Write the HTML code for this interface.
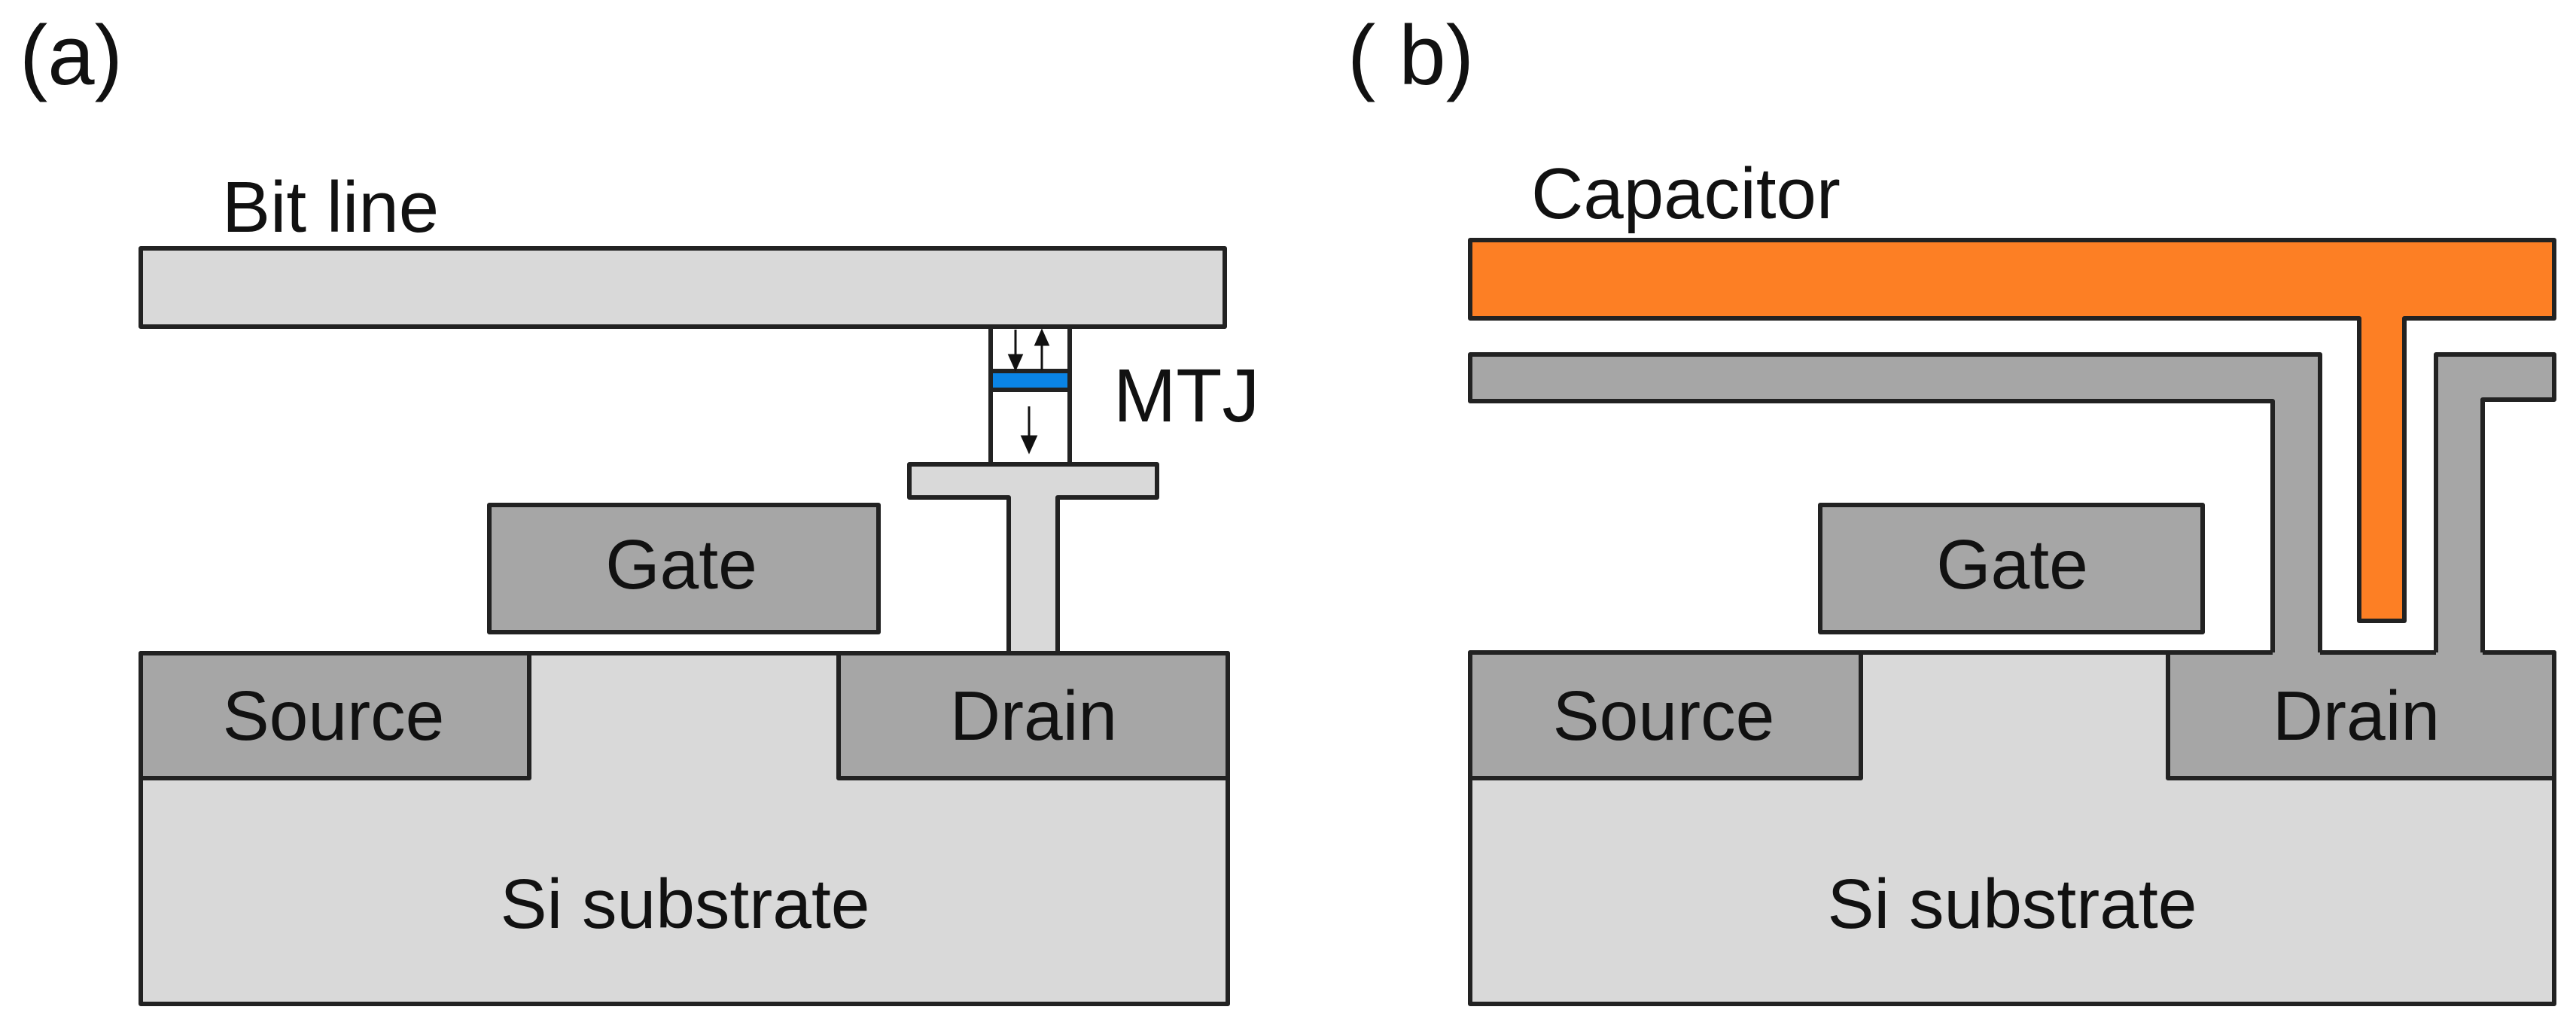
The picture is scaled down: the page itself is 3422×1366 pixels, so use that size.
<!DOCTYPE html>
<html><head><meta charset="utf-8"><style>
html,body{margin:0;padding:0;background:#fff;}
svg{display:block;}
text{font-family:"Liberation Sans",Arial,sans-serif;fill:#111;}
</style></head><body>
<svg width="3422" height="1366" viewBox="0 0 3422 1366" xmlns="http://www.w3.org/2000/svg">
<g stroke="#222" stroke-width="6" stroke-linejoin="round">
<!-- Panel a -->
<rect x="187" y="330" width="1440" height="104" fill="#d9d9d9"/>
<rect x="1316" y="434" width="105" height="183" fill="#fff"/>
<rect x="1316" y="493" width="105" height="25" fill="#0a84e6"/>
<path d="M1208,617 H1537 V661 H1405 V868 H1340 V661 H1208 Z" fill="#d9d9d9"/>
<rect x="650" y="671" width="517" height="169" fill="#a6a6a6"/>
<rect x="187" y="868" width="1444" height="466" fill="#d9d9d9"/>
<rect x="187" y="868" width="516" height="166" fill="#a6a6a6"/>
<rect x="1114" y="868" width="517" height="166" fill="#a6a6a6"/>
<!-- Panel b -->
<path d="M1953,319 H3393 V423 H3194 V825 H3134 V423 H1953 Z" fill="#fd7f24"/>
<rect x="2418" y="671" width="508" height="169" fill="#a6a6a6"/>
<rect x="1953" y="867" width="1440" height="467" fill="#d9d9d9"/>
<rect x="1953" y="867" width="519" height="167" fill="#a6a6a6"/>
<rect x="2880" y="867" width="513" height="167" fill="#a6a6a6"/>
<path d="M1953,471 H3082 V870 H3019 V533 H1953 Z" fill="#a6a6a6" stroke="none"/>
<path d="M3236,870 V471 H3393 V531 H3298 V870 Z" fill="#a6a6a6" stroke="none"/>
<path d="M3019,867 V533 H1953 V471 H3082 V867" fill="none"/>
<path d="M3236,867 V471 H3393 V531 H3298 V867" fill="none"/>
</g>
<!-- MTJ arrows -->
<g stroke="#111" stroke-width="3" fill="#111">
<line x1="1349" y1="438" x2="1349" y2="478"/>
<polygon points="1341,472 1357,472 1349,490"/>
<line x1="1384" y1="452" x2="1384" y2="492"/>
<polygon points="1376,458 1392,458 1384,440"/>
<line x1="1367" y1="540" x2="1367" y2="588"/>
<polygon points="1358,580 1376,580 1367,600"/>
</g>
<text x="26" y="112" font-size="112">(a)</text>
<text x="1790" y="112" font-size="112">( b)</text>
<text x="295" y="308" font-size="96">Bit line</text>
<text x="1479" y="560" font-size="100">MTJ</text>
<text x="2034" y="290" font-size="96">Capacitor</text>
<g font-size="93" text-anchor="middle">
<text x="905" y="782">Gate</text>
<text x="443" y="983">Source</text>
<text x="1373" y="983">Drain</text>
<text x="910" y="1233">Si substrate</text>
<text x="2673" y="782">Gate</text>
<text x="2210" y="983">Source</text>
<text x="3130" y="983">Drain</text>
<text x="2673" y="1233">Si substrate</text>
</g>
</svg>
</body></html>
